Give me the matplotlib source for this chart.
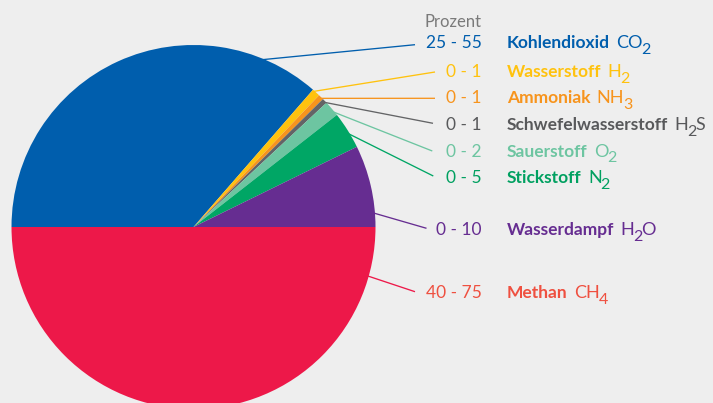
import numpy as np
import matplotlib.pyplot as plt

# Biogas Zusammensetzung (Anteile geschaetzt aus der Grafik, Summe 100)
namen = ['Kohlendioxid', 'Wasserstoff', 'Ammoniak', 'Schwefelwasserstoff',
         'Sauerstoff', 'Stickstoff', 'Wasserdampf', 'Methan']
# Formeln als Teile: (Text, tiefgestellt?)
formeln = [[('CO', 0), ('2', 1)], [('H', 0), ('2', 1)], [('NH', 0), ('3', 1)],
           [('H', 0), ('2', 1), ('S', 0)], [('O', 0), ('2', 1)], [('N', 0), ('2', 1)],
           [('H', 0), ('2', 1), ('O', 0)], [('CH', 0), ('4', 1)]]
bereiche = ['25 - 55', '0 - 1', '0 - 1', '0 - 1', '0 - 2', '0 - 5', '0 - 10', '40 - 75']
anteile = [36.4, 0.72, 0.47, 0.45, 1.4, 3.3, 7.26, 50.0]

farben = ['#005EAD', '#FFC20E', '#F7941D', '#636466', '#6DC5A1', '#00A665', '#662D91', '#ED1849']
textfarben = ['#005EAD', '#FFC20E', '#F7941D', '#58595B', '#6DC5A1', '#00A060', '#662D91', '#EF5040']

# Layout (Pixel)
W, H = 713, 403
cx, cy, r = 193.5, H - 227, 182
zeilen_y = [48.3, 77.3, 103.3, 130.0, 156.7, 183.3, 235.0, 298.3]
linie_winkel = [67.6, 48.5, 45.3, 43.5, 39.5, 31.0, 4.4, -15.7]
linie_ende = [(415, 44.7), (435, 72), (435, 98.3), (433, 123.3),
              (432.3, 151), (433.3, 176), (426.5, 228.3), (415, 291.7)]

plt.rcParams['font.family'] = ['Lato', 'DejaVu Sans']

fig = plt.figure(figsize=(W / 100, H / 100), dpi=100)
fig.patch.set_facecolor('#EEEEEE')
ax = fig.add_axes([0, 0, 1, 1])
ax.set_facecolor('#EEEEEE')

ax.pie(anteile, colors=farben, startangle=180, counterclock=False,
       center=(cx, cy), radius=r, wedgeprops=dict(linewidth=0))

for i in range(len(namen)):
    a = np.radians(linie_winkel[i])
    x0, y0 = cx + (r - 1) * np.cos(a), cy + (r - 1) * np.sin(a)
    x1, y1 = linie_ende[i][0], H - linie_ende[i][1]
    ax.plot([x0, x1], [y0, y1], color=farben[i], lw=0.95, solid_capstyle='butt')

    y = H - zeilen_y[i]
    ax.text(482, y, bereiche[i], color=textfarben[i], fontsize=12.5,
            ha='right', va='baseline')
    t = ax.text(507, y, namen[i], color=textfarben[i], fontsize=12.5,
                fontweight='bold', ha='left', va='baseline')
    prev, dx = t, 4.5
    for teil, tief in formeln[i]:
        prev = ax.annotate(teil, xy=(1, y), xycoords=(prev, 'data'),
                           xytext=(dx, -4 if tief else 0), textcoords='offset points',
                           color=textfarben[i], fontsize=11.5 if tief else 13,
                           ha='left', va='baseline')
        dx = -0.8

ax.text(481, H - 27.3, 'Prozent', color='#7A7A7A', fontsize=12,
        ha='right', va='baseline')

ax.set_xlim(0, W)
ax.set_ylim(0, H)
ax.set_aspect('equal')
ax.axis('off')

plt.savefig('out.png', dpi=100, facecolor=fig.get_facecolor())
